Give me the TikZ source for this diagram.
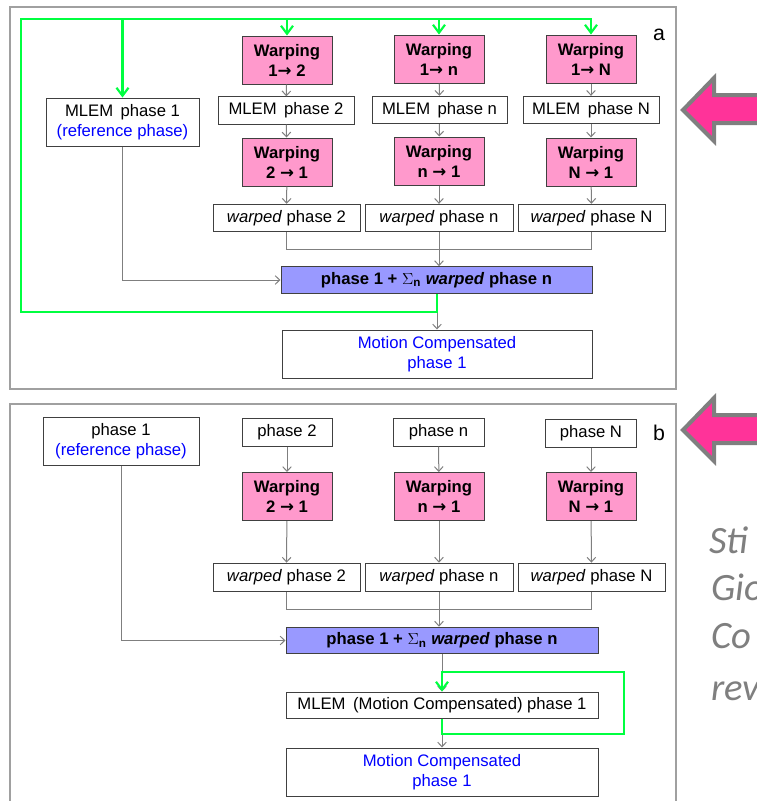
\documentclass[tikz,border=0pt]{standalone}
\usepackage{fontspec}
\setmainfont{Liberation Sans}
\newfontfamily\calib{Carlito}
\newfontfamily\djv{DejaVu Sans}
\newcommand{\rarr}{{\djv\bfseries →}}
\usetikzlibrary{arrows.meta}
\definecolor{warpfill}{HTML}{FF99CC}
\definecolor{sumfill}{HTML}{9999FF}
\definecolor{boxline}{HTML}{404040}
\definecolor{conn}{HTML}{7F7F7F}
\definecolor{grn}{HTML}{00FF40}
\definecolor{framec}{HTML}{A0A0A0}
\definecolor{hotpink}{HTML}{FF3399}
\definecolor{ptext}{HTML}{7F7F7F}
\begin{document}
\begin{tikzpicture}[x=0.75pt,y=-0.75pt,
  font=\fontsize{12.5pt}{15pt}\selectfont,
  box/.style={draw=boxline, line width=0.75pt, rectangle, inner sep=0pt, align=center},
  warp/.style={box, fill=warpfill, font=\fontsize{12.5pt}{15pt}\selectfont\bfseries, minimum width=67.5pt, minimum height=36pt},
  small/.style={box, minimum height=20.5pt},
  big/.style={box, minimum height=36pt},
  sumbox/.style={box, fill=sumfill, font=\fontsize{12.5pt}{15pt}\selectfont\bfseries, minimum height=20pt},
  connline/.style={draw=conn, line width=0.75pt},
  conn/.style={connline, -{Straight Barb[length=3.5pt,width=6.5pt]}},
  grnline/.style={draw=grn, line width=1.6pt},
  grnarrow/.style={grnline, -{Straight Barb[length=6pt,width=9pt]}},
  frame/.style={draw=framec, line width=1.1pt},
  bigarrow/.style={draw=conn, line width=3pt, fill=hotpink, line join=miter},
  sidetext/.style={font=\fontsize{29pt}{36pt}\selectfont\calib\itshape, text=ptext, anchor=base west, inner sep=0pt}
]
\useasboundingbox (0,0) rectangle (757,801);
\clip (0,0) rectangle (757,801);

% frames
\draw[frame] (10,7) rectangle (676,389);
\draw[frame] (10,404) rectangle (676,812);

% ===== panel a =====
\node[warp] (w12) at (287,60) {Warping\\1\rarr\ 2};
\node[warp] (w1n) at (439,59) {Warping\\1\rarr\ n};
\node[warp] (w1N) at (591,59) {Warping\\1\rarr\ N};
\node[big, minimum width=114.75pt] (m1) at (122.5,122) {MLEM\hspace{0.45em}phase 1\\\textcolor{blue}{(reference phase)}};
\node[small, minimum width=102pt] (m2) at (286,110.5) {MLEM\hspace{0.45em}phase 2};
\node[small, minimum width=101.25pt] (mn) at (439.5,110) {MLEM\hspace{0.45em}phase n};
\node[small, minimum width=102pt] (mN) at (591,110) {MLEM\hspace{0.45em}phase N};
\node[warp] (w21) at (287,162) {Warping\\2 \rarr\ 1};
\node[warp] (wn1) at (439,161) {Warping\\n \rarr\ 1};
\node[warp] (wN1) at (591,162) {Warping\\N \rarr\ 1};
\node[small, minimum width=110.25pt] (wp2) at (286.5,218) {\textit{warped} phase 2};
\node[small, minimum width=111pt] (wpn) at (439,218) {\textit{warped} phase n};
\node[small, minimum width=110.25pt] (wpN) at (591.5,218) {\textit{warped} phase N};
\node[sumbox, minimum width=233.25pt] (sum) at (436.5,280) {phase 1 + {\large\(\Sigma\)}\textsubscript{n} \textit{warped} phase n};
\node[big, minimum width=232.5pt, text=blue] (mc) at (437,354) {Motion Compensated\\phase 1};
\node[font=\fontsize{16pt}{18pt}\selectfont, inner sep=0pt] (la) at (659,35) {a};

\draw[conn] (w12) -- (m2);
\draw[conn] (m2) -- (w21);
\draw[conn] (w21) -- (wp2);
\draw[conn] (w1n) -- (mn);
\draw[conn] (mn) -- (wn1);
\draw[conn] (wn1) -- (wpn);
\draw[conn] (w1N) -- (mN);
\draw[conn] (mN) -- (wN1);
\draw[conn] (wN1) -- (wpN);
\coordinate (ca) at (0,249);
\draw[connline] (wp2.south) -- (wp2.south |- ca) -- (wpN.south |- ca) -- (wpN.south);
\draw[conn] (wpn.south) -- (wpn.south |- sum.north);
\draw[conn] (m1.south) |- (sum.west);
\draw[conn] (sum.south -| mc.north) -- (mc.north);

\coordinate (gbl) at (21,312);
\coordinate (gtl) at (21,19);
\draw[grnarrow] (sum.south -| mc.north) -- (mc.north |- gbl) -- (gbl) -- (gtl) -- (w1N.north |- gtl) -- (w1N.north);
\draw[grnarrow] (m1.north |- gtl) -- (m1.north);
\draw[grnarrow] (w12.north |- gtl) -- (w12.north);
\draw[grnarrow] (w1n.north |- gtl) -- (w1n.north);

% ===== panel b =====
\node[big, minimum width=117pt] (p1) at (121,441) {phase 1\\\textcolor{blue}{(reference phase)}};
\node[box, minimum width=67.5pt, minimum height=21pt] (p2) at (287,432) {phase 2};
\node[box, minimum width=68.25pt, minimum height=21pt] (pn) at (438.5,432) {phase n};
\node[box, minimum width=68.25pt, minimum height=21pt] (pN) at (591,433) {phase N};
\node[warp] (w21b) at (287,496.5) {Warping\\2 \rarr\ 1};
\node[warp] (wn1b) at (439,496.5) {Warping\\n \rarr\ 1};
\node[warp] (wN1b) at (591,496.5) {Warping\\N \rarr\ 1};
\node[small, minimum width=110.25pt, minimum height=21.5pt] (wp2b) at (286.5,577.5) {\textit{warped} phase 2};
\node[small, minimum width=111pt, minimum height=21.5pt] (wpnb) at (439,577.5) {\textit{warped} phase n};
\node[small, minimum width=110.25pt, minimum height=21.5pt] (wpNb) at (591.5,577.5) {\textit{warped} phase N};
\node[sumbox, minimum width=234pt] (sumb) at (442,640.5) {phase 1 + {\large\(\Sigma\)}\textsubscript{n} \textit{warped} phase n};
\node[box, minimum width=234pt, minimum height=19.5pt] (mlem) at (442,705) {MLEM\hspace{0.45em}(Motion Compensated) phase 1};
\node[big, minimum width=234pt, text=blue] (mcb) at (442,772) {Motion Compensated\\phase 1};
\node[font=\fontsize{16pt}{18pt}\selectfont, inner sep=0pt] (lb) at (659,433) {b};

\draw[conn] (p2) -- (w21b);
\draw[conn] (w21b) -- (wp2b);
\draw[conn] (pn) -- (wn1b);
\draw[conn] (wn1b) -- (wpnb);
\draw[conn] (pN) -- (wN1b);
\draw[conn] (wN1b) -- (wpNb);
\coordinate (cb) at (0,609);
\draw[connline] (wp2b.south) -- (wp2b.south |- cb) -- (wpNb.south |- cb) -- (wpNb.south);
\draw[conn] (wpnb.south) -- (wpnb.south |- sumb.north);
\draw[conn] (p1.south) |- (sumb.west);
\draw[conn] (sumb.south) -- (mlem.north);
\draw[conn] (mlem.south) -- (mcb.north);
\coordinate (gbr) at (624,734);
\coordinate (gtr) at (624,672);
\draw[grnarrow] (mlem.south) -- (mlem.south |- gbr) -- (gbr) -- (gtr) -- (mlem.north |- gtr) -- (mlem.north);

% ===== right side (cut-off slide parts) =====
\draw[bigarrow] (683,110) -- (714,78) -- (714,95) -- (775,95) -- (775,123) -- (714,123) -- (714,141) -- cycle;
\draw[bigarrow] (683,430) -- (714,398) -- (714,415) -- (775,415) -- (775,443) -- (714,443) -- (714,461) -- cycle;
\node[sidetext] (t1) at (709,553) {Sti};
\node[sidetext] (t2) at (711,600) {Gio};
\node[sidetext] (t3) at (711,648) {Co};
\node[sidetext] (t4) at (711,700) {rev};
\end{tikzpicture}
\end{document}
